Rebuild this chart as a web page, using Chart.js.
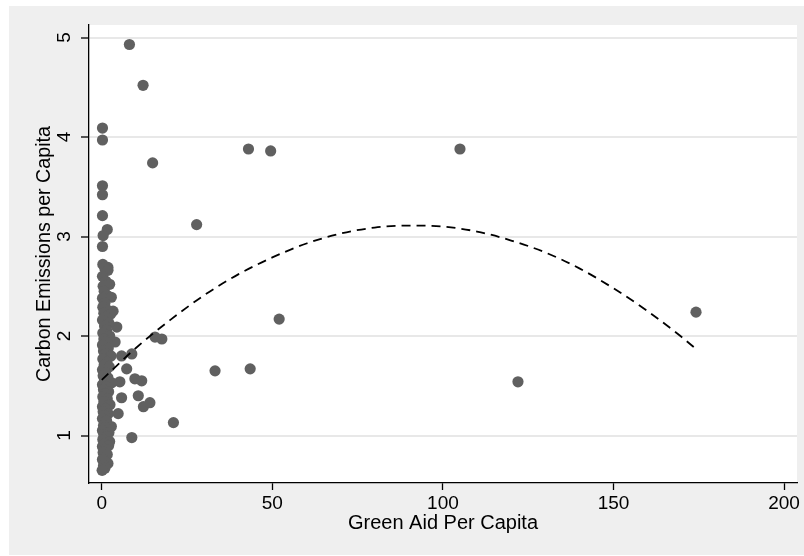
<!DOCTYPE html>
<html>
<head>
<meta charset="utf-8">
<title>Green aid vs carbon emissions</title>
<script src="https://cdn.jsdelivr.net/npm/chart.js@4.4.1/dist/chart.umd.min.js"></script>
<style>
  html, body { margin: 0; padding: 0; background: #fff; }
  canvas { display: block; }
</style>
</head>
<body>
<canvas id="scatterChart" width="804" height="556"></canvas>
<script>
// countries spread away from the y axis
const spreadAid = [8.1, 12.1, 0.2, 0.2, 14.9, 43.0, 49.5, 105.0, 0.2, 0.2, 0.2, 1.6, 0.4, 0.2,
  27.8, 52.0, 174.2, 33.2, 43.5, 122.0, 21.0, 8.8, 15.6, 17.6, 4.4, 3.9, 5.8, 8.8, 7.3,
  5.3, 9.7, 11.7, 5.8, 10.7, 12.2, 14.1, 4.8, 1.8, 3.3];
const spreadEmissions = [4.93, 4.52, 4.09, 3.97, 3.74, 3.88, 3.86, 3.88, 3.51, 3.42, 3.21, 3.07, 3.01, 2.90,
  3.12, 2.17, 2.24, 1.65, 1.67, 1.54, 1.13, 0.98, 1.99, 1.97, 2.09, 1.94, 1.80, 1.82, 1.67,
  1.54, 1.57, 1.55, 1.38, 1.40, 1.29, 1.33, 1.22, 2.69, 2.25];

// countries with almost no green aid (the column at x = 0)
const columnAid = [0.3, 0.9, 1.8, 0.2, 1.2, 0.4, 2.3, 0.7, 1.5, 0.2, 2.8, 0.9, 0.3, 1.7, 0.6, 2.6, 1.1,
  0.2, 2.1, 0.8, 1.4, 0.3, 2.3, 0.6, 1.2, 0.2, 1.9, 0.5, 1.0, 2.7, 0.3, 1.5, 0.7, 2.2, 0.2, 1.1,
  0.4, 1.8, 0.8, 2.9, 0.2, 1.3, 0.5, 2.0, 0.9, 0.3, 1.6, 0.6, 2.4, 0.2, 1.1, 0.4, 1.9, 0.7, 0.2,
  1.4, 2.8, 0.5, 1.0, 0.2, 2.1, 0.6, 1.3, 0.3, 2.3, 0.8, 0.2, 2.0, 1.1, 0.4, 1.6, 1.8, 0.2, 1.3,
  0.5, 0.9, 0.1];
const columnEmissions = [2.72, 2.68, 2.66, 2.60, 2.55, 2.50, 2.52, 2.45, 2.41, 2.38, 2.39, 2.33, 2.29, 2.26,
  2.23, 2.22, 2.19, 2.16, 2.13, 2.10, 2.06, 2.03, 2.00, 1.97, 1.94, 1.91, 1.88, 1.85, 1.82, 1.80,
  1.77, 1.74, 1.71, 1.69, 1.66, 1.63, 1.60, 1.58, 1.56, 1.53, 1.51, 1.49, 1.46, 1.44, 1.42, 1.39,
  1.37, 1.34, 1.31, 1.29, 1.27, 1.24, 1.22, 1.20, 1.17, 1.15, 1.09, 1.10, 1.08, 1.05, 1.03, 1.01,
  0.99, 0.96, 0.94, 0.92, 0.89, 0.90, 0.86, 0.83, 0.81, 0.72, 0.76, 0.73, 0.70, 0.67, 0.65];

// quadratic fit
const fitAid = [0, 10, 20, 30, 40, 50, 60, 70, 80, 90, 100, 110, 120, 130, 140, 150, 160, 170, 174.2];
const fitEmissions = [1.56, 1.88, 2.16, 2.41, 2.62, 2.79, 2.93, 3.03, 3.09, 3.11, 3.10, 3.05, 2.96,
  2.84, 2.68, 2.48, 2.25, 1.99, 1.87];

const xTicks = [0, 50, 100, 150, 200];
const yTicks = [1, 2, 3, 4, 5];

const FONT = '"Liberation Sans", Arial, Helvetica, sans-serif';

const points = spreadAid.map((x, i) => ({ x, y: spreadEmissions[i] }))
  .concat(columnAid.map((x, i) => ({ x, y: columnEmissions[i] })));
const fitLine = fitAid.map((x, i) => ({ x, y: fitEmissions[i] }));

// grey graph region + white plot region, Stata style
const backdrop = {
  id: 'backdrop',
  beforeDraw(chart) {
    const { ctx, chartArea } = chart;
    ctx.save();
    ctx.fillStyle = '#fff';
    ctx.fillRect(0, 0, chart.width, chart.height);
    ctx.fillStyle = '#efefef';
    ctx.fillRect(9, 6, chart.width - 9, chart.height - 7);
    ctx.fillStyle = '#fff';
    ctx.fillRect(chartArea.left, chartArea.top, chartArea.right - chartArea.left, chartArea.bottom - chartArea.top);
    ctx.restore();
  }
};

new Chart(document.getElementById('scatterChart'), {
  type: 'scatter',
  data: {
    datasets: [
      {
        type: 'line',
        data: fitLine,
        borderColor: '#000',
        borderWidth: 1.8,
        borderDash: [9, 6],
        pointRadius: 0,
        fill: false,
        cubicInterpolationMode: 'monotone',
        order: 0
      },
      {
        data: points,
        backgroundColor: '#606060',
        borderWidth: 0,
        pointRadius: 5.6,
        order: 1
      }
    ]
  },
  options: {
    responsive: false,
    animation: false,
    devicePixelRatio: 1,
    layout: { padding: { top: 25, right: 7, bottom: 0, left: 0 } },
    plugins: {
      legend: { display: false },
      tooltip: { enabled: false }
    },
    scales: {
      x: {
        type: 'linear',
        min: -3.75,
        max: 203.8,
        afterBuildTicks: s => { s.ticks = xTicks.map(v => ({ value: v })); },
        afterFit: s => { s.height = 73; s.paddingLeft = 0; s.paddingRight = 0; },
        border: { color: '#000', width: 1.3 },
        grid: { drawOnChartArea: false, tickLength: 7, tickColor: '#000', tickWidth: 1.3 },
        ticks: { color: '#000', padding: 2, maxRotation: 0, autoSkip: false, font: { family: FONT, size: 19 } },
        title: {
          display: true,
          text: 'Green Aid Per Capita',
          color: '#000',
          font: { family: FONT, size: 20 },
          padding: { top: 0, bottom: 21 }
        }
      },
      y: {
        type: 'linear',
        min: 0.523,
        max: 5.126,
        afterBuildTicks: s => { s.ticks = yTicks.map(v => ({ value: v })); },
        afterFit: s => { s.width = 89; s.paddingTop = 0; s.paddingBottom = 0; },
        border: { color: '#000', width: 1.3 },
        grid: { color: '#e8e8e8', lineWidth: 2, tickLength: 8, tickColor: '#000', tickWidth: 1.3 },
        ticks: {
          color: '#000', padding: 10.5, minRotation: 90, maxRotation: 90, crossAlign: 'center',
          font: { family: FONT, size: 19 }
        },
        title: {
          display: true,
          text: 'Carbon Emissions per Capita',
          color: '#000',
          font: { family: FONT, size: 19.7 },
          padding: { top: 33, bottom: 0 }
        }
      }
    }
  },
  plugins: [backdrop]
});
</script>
</body>
</html>
